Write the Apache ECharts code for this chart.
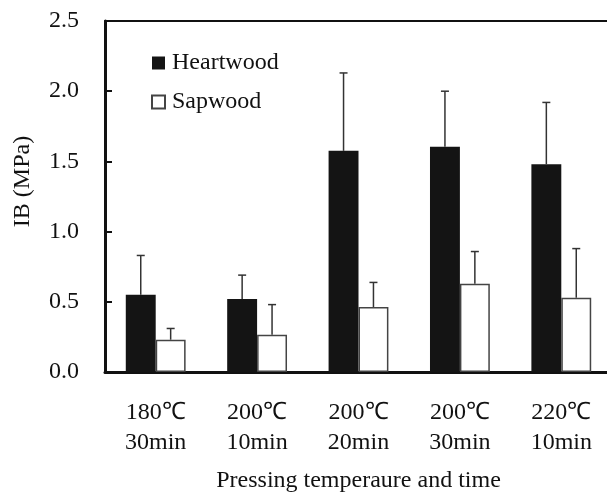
<!DOCTYPE html>
<html>
<head>
<meta charset="utf-8">
<script src="https://cdn.jsdelivr.net/npm/echarts@6/dist/echarts.min.js"></script>
<style>
  html, body { margin: 0; padding: 0; background: #fff; }
  #chart { width: 607px; height: 493px; }
</style>
</head>
<body>
<div id="chart"></div>
<script>
// categories + values
var categories = ['180℃\n30min', '200℃\n10min', '200℃\n20min', '200℃\n30min', '220℃\n10min'];
var heartwood = [0.55, 0.52, 1.575, 1.605, 1.48];
var heartwoodSd = [0.28, 0.17, 0.555, 0.395, 0.44];
var sapwood = [0.23, 0.265, 0.463, 0.628, 0.529];
var sapwoodSd = [0.08, 0.215, 0.175, 0.23, 0.35];

var font = "'Liberation Serif', 'Times New Roman', serif";
var barRatio = 0.295;

// error bar (upper only), side: -1 heartwood, +1 sapwood
function errorSeries(name, means, sds, side) {
    var data = means.map(function (m, i) { return [i, m, m + sds[i]]; });
    return {
        name: name + ' err',
        type: 'custom',
        z: 10,
        silent: true,
        data: data,
        renderItem: function (params, api) {
            var band = api.size([1, 0])[0];
            var dx = side * band * barRatio / 2;
            var base = api.coord([api.value(0), api.value(1)]);
            var top = api.coord([api.value(0), api.value(2)]);
            var x = base[0] + dx;
            var style = { stroke: '#333', lineWidth: 1.5 };
            return {
                type: 'group',
                children: [
                    { type: 'line', shape: { x1: x, y1: base[1], x2: x, y2: top[1] }, style: style },
                    { type: 'line', shape: { x1: x - 4, y1: top[1], x2: x + 4, y2: top[1] }, style: style }
                ]
            };
        }
    };
}

var myChart = echarts.init(document.getElementById('chart'));

option = {
    animation: false,
    textStyle: { fontFamily: font, color: '#111' },
    legend: {
        orient: 'vertical',
        left: 151,
        top: 51,
        padding: 0,
        itemWidth: 13,
        itemHeight: 13,
        itemGap: 15,
        icon: 'rect',
        data: ['Heartwood', 'Sapwood'],
        textStyle: { fontFamily: font, fontSize: 24, color: '#111', padding: [0, 0, 0, 2] }
    },
    grid: { left: 105, top: 21, width: 507, bottom: 121, outerBoundsMode: 'none' },
    xAxis: [{
        type: 'category',
        data: categories,
        name: 'Pressing temperaure and time',
        nameLocation: 'middle',
        nameGap: 97,
        nameTextStyle: { fontFamily: font, fontSize: 24, color: '#111' },
        axisLine: { lineStyle: { color: '#111', width: 3 } },
        axisTick: { inside: true, length: 5, lineStyle: { color: '#111', width: 2 } },
        axisLabel: { interval: 0, margin: 26, fontFamily: font, fontSize: 24, lineHeight: 30, color: '#111' }
    }, {
        type: 'category',
        data: categories,
        position: 'top',
        axisLine: { lineStyle: { color: '#111', width: 2 } },
        axisTick: { show: false },
        axisLabel: { show: false }
    }],
    yAxis: {
        type: 'value',
        min: 0,
        max: 2.5,
        interval: 0.5,
        name: 'IB (MPa)',
        nameLocation: 'middle',
        nameGap: 70,
        nameTextStyle: { fontFamily: font, fontSize: 24, color: '#111', padding: [0, 0, 0, 30] },
        splitLine: { show: false },
        axisLine: { show: true, lineStyle: { color: '#111', width: 3 } },
        axisTick: { show: true, inside: true, length: 7, lineStyle: { color: '#111', width: 2 } },
        axisLabel: {
            margin: 26, fontFamily: font, fontSize: 24, color: '#111',
            formatter: function (v) { return v.toFixed(1); }
        }
    },
    series: [
        {
            name: 'Heartwood',
            type: 'bar',
            barWidth: (barRatio * 100) + '%',
            barGap: '0%',
            itemStyle: { color: '#141414', borderColor: '#141414', borderWidth: 0 },
            data: heartwood
        },
        {
            name: 'Sapwood',
            type: 'bar',
            barWidth: (barRatio * 100) + '%',
            barGap: '0%',
            itemStyle: { color: '#fff', borderColor: '#444', borderWidth: 1.5 },
            data: sapwood
        },
        errorSeries('Heartwood', heartwood, heartwoodSd, -1),
        errorSeries('Sapwood', sapwood, sapwoodSd, 1)
    ]
};

if (option && typeof option === "object") {
    myChart.setOption(option, true);
}
</script>
</body>
</html>
